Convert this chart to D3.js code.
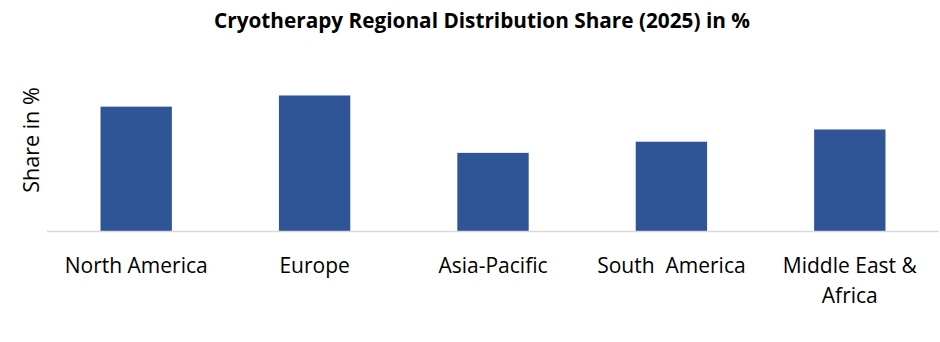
<!DOCTYPE html>
<html lang="en">
<head>
    <meta charset="UTF-8">
    <title>Cryotherapy Regional Distribution Share</title>
    <style>
        body { margin: 0; background: #fff; }
    </style>
</head>
<body>
    <div class="container"></div>
    <script src="https://cdn.jsdelivr.net/npm/d3@7/dist/d3.min.js"></script>
    <script>
        // Data
        const regions = ["North America", "Europe", "Asia-Pacific", "South  America", "Middle East & Africa"]
        const shares = [23.5, 25.6, 14.8, 16.9, 19.2]

        // Setup config
        const width = 940
        const height = 342
        const left = 47
        const right = 939
        const baseline = 231.5
        const font = "Open Sans, Noto Sans, sans-serif"

        const svg = d3.select(".container")
                    .append("svg")
                    .attr("width", width)
                    .attr("height", height)

        // Title
        svg.append("text")
            .attr("x", 482)
            .attr("y", 28)
            .attr("text-anchor", "middle")
            .attr("font-family", font)
            .attr("font-weight", "bold")
            .attr("font-size", 20.5)
            .attr("textLength", 536)
            .attr("lengthAdjust", "spacingAndGlyphs")
            .attr("fill", "#000")
            .text("Cryotherapy Regional Distribution Share (2025) in %")

        // Scales
        const xScale = d3.scaleBand()
                        .domain(regions)
                        .range([left, right])
                        .paddingInner(0.6)
                        .paddingOuter(0.3)
        const yScale = d3.scaleLinear()
                        .domain([0, 30])
                        .range([baseline, baseline - 159.4])

        // Bars
        svg.append("g")
            .selectAll("rect")
            .data(regions)
            .join("rect")
            .attr("x", d => xScale(d))
            .attr("y", (d, i) => yScale(shares[i]))
            .attr("width", xScale.bandwidth())
            .attr("height", (d, i) => baseline - yScale(shares[i]))
            .attr("fill", "#2f5597")

        // Bottom axis
        const bottomAxis = d3.axisBottom(xScale).tickSize(0).tickPadding(0)
        const axisGroup = svg.append("g")
                            .attr("transform", `translate(0,${baseline})`)
                            .call(bottomAxis)
        axisGroup.select(".domain")
            .attr("d", `M${left},0H${right}`)
            .attr("stroke", "#d9d9d9")
            .attr("stroke-width", 1.5)
        axisGroup.selectAll(".tick text").remove()
        axisGroup.selectAll(".tick").each(function(d) {
            const t = d3.select(this).append("text")
                        .attr("text-anchor", "middle")
                        .attr("font-family", font)
                        .attr("font-size", 21)
                        .attr("fill", "#000")
                        .attr("y", 41)
            const lines = d === "Middle East & Africa" ? ["Middle East &", "Africa"] : [d]
            lines.forEach((line, i) => {
                t.append("tspan")
                    .attr("x", 0)
                    .attr("dy", i === 0 ? 0 : 30)
                    .style("white-space", "pre")
                    .text(line)
            })
        })

        // Y axis label
        svg.append("text")
            .attr("transform", "translate(39,140) rotate(-90)")
            .attr("text-anchor", "middle")
            .attr("font-family", font)
            .attr("font-size", 21.5)
            .attr("fill", "#000")
            .text("Share in %")
    </script>
</body>
</html>
